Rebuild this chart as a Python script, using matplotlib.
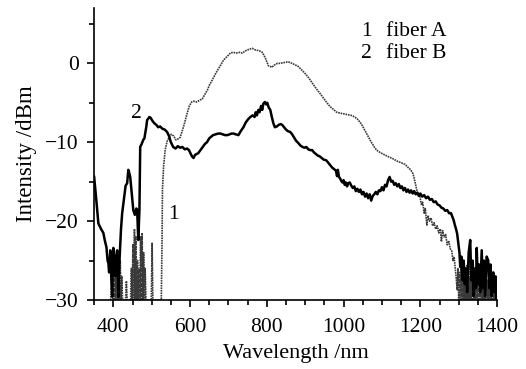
import matplotlib
matplotlib.use("Agg")
import matplotlib.pyplot as plt
from matplotlib.ticker import MultipleLocator

plt.rcParams['font.family'] = ['Liberation Serif', 'DejaVu Serif']
plt.rcParams['mathtext.fontset'] = 'stix'

# Fiber B (curve 2, solid)
fiber_b_wl = [350, 355, 361, 368, 374, 378, 382, 385, 387, 389, 392, 395, 397, 399, 400, 402, 405, 407,
              410, 412, 413, 416, 420, 423, 428, 432, 436, 439, 441, 444, 448, 452, 456, 460, 462, 465,
              468, 470, 474, 478, 481, 483, 486, 488, 491, 494, 497, 502, 507, 512, 517, 522, 528, 534,
              540, 545, 550, 556, 562, 568, 574, 580, 586, 592, 597, 601, 605, 609, 613, 617, 621, 627,
              633, 639, 644, 650, 655, 660, 667, 673, 679, 685, 691, 697, 703, 708, 713, 719, 726, 732,
              739, 745, 751, 757, 763, 768, 771, 774, 778, 781, 785, 788, 791, 795, 798, 801, 805, 809,
              813, 817, 821, 826, 831, 836, 840, 845, 850, 855, 861, 866, 871, 876, 882, 887, 893, 898,
              903, 908, 913, 918, 923, 928, 933, 938, 943, 948, 955, 960, 965, 970, 975, 980, 983, 985,
              988, 991, 994, 997, 1000, 1003, 1006, 1009, 1012, 1016, 1020, 1024, 1028, 1032, 1036, 1040,
              1044, 1048, 1052, 1056, 1060, 1064, 1068, 1072, 1076, 1080, 1084, 1088, 1092, 1096, 1100,
              1104, 1108, 1112, 1116, 1120, 1124, 1128, 1132, 1136, 1140, 1144, 1148, 1152, 1156, 1160,
              1164, 1168, 1172, 1176, 1180, 1184, 1188, 1192, 1196, 1200, 1205, 1210, 1215, 1220, 1225,
              1230, 1235, 1240, 1245, 1250, 1255, 1260, 1265, 1270, 1275, 1280, 1284, 1287, 1290, 1293,
              1296, 1299, 1302, 1304, 1307, 1310, 1313, 1316, 1319, 1322, 1326, 1330, 1333, 1336, 1339,
              1342, 1345, 1347, 1350, 1353, 1356, 1360, 1363, 1366, 1369, 1373, 1377, 1380, 1383, 1386,
              1390, 1393, 1396, 1398]
fiber_b_db = [-14.4, -17.0, -20.3, -21.0, -21.5, -22.5, -23.3, -25.0, -25.3, -26.5, -23.7, -27.5, -29.6,
              -25.0, -23.4, -26.0, -27.0, -24.5, -23.7, -26.5, -29.6, -25.0, -21.0, -19.0, -17.0, -15.5,
              -15.2, -13.5, -13.8, -14.4, -16.5, -18.6, -19.2, -18.4, -18.6, -22.4, -18.6, -10.6, -10.2,
              -9.7, -9.5, -8.9, -8.0, -7.2, -7.0, -6.8, -6.9, -7.3, -7.6, -7.8, -8.1, -8.0, -8.3, -8.4,
              -8.7, -9.2, -10.0, -10.6, -10.8, -10.5, -10.7, -10.6, -10.9, -10.8, -11.0, -11.4, -11.8,
              -12.0, -11.6, -11.5, -11.4, -11.0, -10.6, -10.2, -10.0, -9.5, -9.3, -9.1, -9.0, -8.9, -8.9,
              -9.0, -9.1, -9.1, -9.0, -8.9, -8.9, -9.0, -9.1, -8.6, -8.1, -7.5, -7.1, -6.8, -6.6, -6.8,
              -6.2, -6.6, -5.9, -6.2, -5.4, -5.9, -5.1, -4.9, -5.2, -5.0, -5.6, -5.9, -6.8, -7.6, -8.1,
              -8.0, -7.8, -7.7, -7.8, -8.1, -8.4, -8.6, -8.7, -9.0, -9.4, -9.8, -10.1, -10.4, -10.6,
              -10.7, -10.6, -10.9, -11.0, -11.0, -11.3, -11.5, -11.7, -11.8, -12.0, -12.2, -12.3, -12.6,
              -12.9, -13.2, -13.4, -13.6, -14.3, -13.5, -14.4, -14.6, -14.9, -15.1, -14.8, -15.4, -15.1,
              -15.6, -15.2, -15.1, -15.5, -15.8, -15.6, -16.2, -15.9, -16.3, -16.0, -16.6, -16.3, -16.9,
              -16.5, -17.1, -16.6, -17.4, -16.8, -16.6, -16.3, -16.6, -16.1, -16.2, -15.7, -16.1, -15.4,
              -15.6, -14.8, -14.4, -15.0, -14.9, -15.4, -15.2, -15.6, -15.3, -15.8, -15.6, -16.1, -15.8,
              -16.3, -16.0, -16.4, -16.1, -16.5, -16.2, -16.6, -16.4, -16.8, -16.5, -16.9, -16.7, -17.1,
              -16.9, -17.3, -17.2, -17.6, -17.5, -17.9, -18.0, -18.3, -18.4, -18.7, -18.6, -19.0, -19.0,
              -19.5, -19.9, -20.5, -21.0, -21.6, -22.8, -24.0, -25.8, -24.5, -27.5, -25.0, -28.0, -26.0,
              -29.0, -24.0, -22.4, -27.5, -25.0, -29.5, -26.0, -28.5, -23.4, -28.0, -25.5, -29.0, -23.7,
              -28.5, -25.0, -29.5, -24.5, -25.0, -28.5, -25.5, -29.5, -26.5, -29.0, -27.0, -29.8]

# Fiber A (curve 1, dotted grey)
fiber_a_wl = [393, 398, 400, 402, 404, 406, 408, 410, 412, 414, 416, 418, 420, 422, 424, 432, 434, 436,
              445, 447, 449, 451, 453, 455, 457, 459, 461, 463, 465, 467, 469, 471, 473, 475, 477, 479,
              481, 483, 485, 499, 501, 503, 525, 527, 528, 531, 535, 540, 545, 551, 557, 563, 568, 574,
              580, 586, 592, 598, 604, 610, 617, 624, 632, 640, 645, 650, 661, 670, 680, 687, 695, 705,
              712, 720, 730, 736, 745, 755, 762, 770, 780, 788, 796, 804, 809, 813, 820, 828, 835, 845,
              855, 861, 870, 882, 890, 900, 910, 920, 930, 940, 946, 955, 965, 975, 982, 990, 1000, 1010,
              1020, 1025, 1035, 1045, 1051, 1060, 1070, 1080, 1086, 1095, 1103, 1115, 1129, 1140, 1150,
              1160, 1168, 1175, 1181, 1186, 1191, 1195, 1199, 1203, 1206, 1210, 1213, 1217, 1220, 1224,
              1228, 1232, 1236, 1240, 1244, 1248, 1252, 1255, 1258, 1262, 1266, 1270, 1274, 1278, 1282,
              1285, 1288, 1291, 1294, 1296, 1298, 1300, 1302, 1304, 1306, 1308, 1310, 1312, 1314, 1316,
              1318, 1320, 1322, 1324, 1326, 1328, 1330, 1332, 1334, 1336, 1338, 1340, 1342, 1344, 1346,
              1348, 1350, 1352, 1354, 1356, 1358, 1360, 1362, 1364, 1366, 1368, 1370, 1372, 1374, 1376,
              1378, 1380, 1382, 1384, 1386, 1388, 1390, 1392, 1394, 1396]
fiber_a_db = [-30, -24.0, -30, -23.5, -30, -25.0, -30, -26.0, -30, -24.0, -30, -25.0, -30, -27.0, -30,
              -30, -27.6, -30, -30, -26.0, -30, -23.0, -30, -21.0, -30, -22.0, -30, -25.0, -30, -26.0,
              -30, -22.0, -30, -21.5, -30, -24.0, -30, -26.0, -30, -30, -22.8, -30, -30, -22.0, -16.0,
              -13.0, -11.0, -9.9, -9.4, -9.0, -9.2, -9.7, -9.6, -9.4, -8.5, -7.5, -6.4, -5.4, -4.9,
              -4.8, -4.9, -4.7, -4.5, -3.8, -3.4, -2.8, -1.8, -1.0, -0.2, 0.4, 0.8, 1.3, 1.4, 1.3, 1.4,
              1.3, 1.6, 1.8, 1.9, 1.7, 1.6, 1.4, 0.7, -0.3, -0.4, -0.5, -0.2, 0.0, 0.0, 0.1, 0.2, 0.1,
              -0.1, -0.4, -0.8, -1.3, -1.9, -2.6, -3.3, -3.9, -4.3, -4.9, -5.5, -5.9, -6.2, -6.3, -6.4,
              -6.5, -6.6, -6.7, -7.0, -7.6, -8.1, -8.9, -9.8, -10.6, -11.0, -11.3, -11.5, -11.8, -12.1,
              -12.4, -12.6, -12.8, -13.2, -13.5, -14.0, -15.0, -16.1, -16.6, -16.9, -18.0, -17.6, -19.0,
              -18.4, -20.5, -19.3, -20.0, -19.6, -20.6, -20.2, -21.0, -20.6, -21.5, -21.0, -22.6, -21.2,
              -22.0, -21.7, -23.0, -22.5, -23.5, -23.8, -25.0, -24.5, -26.0, -27.5, -28.7, -26.0, -30,
              -26.5, -30, -25.5, -30, -26.0, -30, -25.0, -30, -26.5, -30, -25.5, -30, -27.0, -30, -25.0,
              -30, -26.0, -30, -25.5, -30, -27.0, -30, -26.0, -30, -25.5, -30, -27.0, -30, -26.0, -30,
              -26.5, -30, -27.0, -30, -26.0, -30, -27.5, -30, -26.5, -30, -27.0, -30, -28.0, -30, -27.5,
              -30, -28.5, -30]

x_ticks = [400, 600, 800, 1000, 1200, 1400]
y_ticks = [-30, -20, -10, 0]
legend_nums = ["1", "2"]
legend_names = ["fiber A", "fiber B"]

fig = plt.figure(figsize=(5.26, 3.69), dpi=100)
ax = fig.add_axes([0.179, 0.187, 0.766, 0.791])

ax.plot(fiber_a_wl, fiber_a_db, color='#3a3a3a', lw=1.2, linestyle=(0, (1, 0.5)))
ax.plot(fiber_b_wl, fiber_b_db, color='black', lw=1.8)

ax.set_xlim(350, 1400)
ax.set_ylim(-30, 7)
ax.set_xticks(x_ticks)
ax.set_yticks(y_ticks)
ax.set_yticklabels(['\u221230', '\u221220', '\u221210', '0'])
ax.xaxis.set_minor_locator(MultipleLocator(50))
ax.yaxis.set_minor_locator(MultipleLocator(5))
ax.tick_params(which='major', direction='out', length=5, width=1.2, labelsize=15.5)
ax.tick_params(axis='x', which='major', pad=8)
ax.tick_params(axis='y', which='major', pad=6)
ax.tick_params(which='minor', direction='out', length=3.5, width=1.2)
for s in ['top', 'right']:
    ax.spines[s].set_visible(False)
for s in ['left', 'bottom']:
    ax.spines[s].set_linewidth(1.2)

ax.set_xlabel('Wavelength /nm', fontsize=16, labelpad=5)
ax.set_ylabel('Intensity /dBm', fontsize=16.5, labelpad=6)

ax.text(447, -6.3, legend_nums[1], fontsize=15.5, ha='left', va='center')
ax.text(543, -19.2, legend_nums[0], fontsize=15.5, ha='left', va='center')
ax.text(1045, 4.0, legend_nums[0], fontsize=15.5, ha='left', va='center')
ax.text(1110, 4.0, legend_names[0], fontsize=15.5, ha='left', va='center')
ax.text(1045, 1.2, legend_nums[1], fontsize=15.5, ha='left', va='center')
ax.text(1110, 1.2, legend_names[1], fontsize=15.5, ha='left', va='center')

fig.savefig('out.png', dpi=100)
